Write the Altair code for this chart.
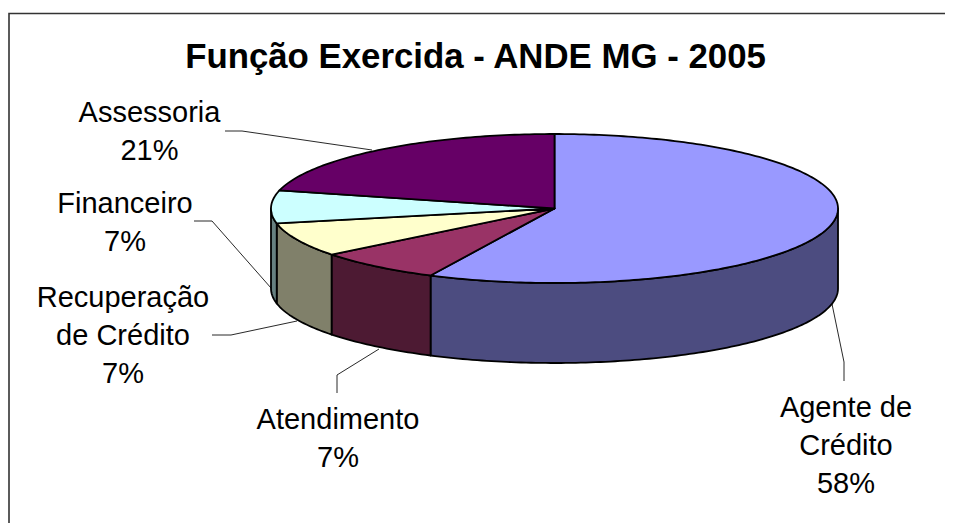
import math
import altair as alt

# Data
categories = ["Agente de Crédito", "Atendimento", "Recuperação de Crédito", "Financeiro", "Assessoria"]
shares = [57.2, 7.2, 7.4, 7.1, 21.1]          # slice sizes as drawn
label_lines = [["Agente de", "Crédito", "58%"], ["Atendimento", "7%"],
               ["Recuperação", "de Crédito", "7%"], ["Financeiro", "7%"], ["Assessoria", "21%"]]
title_text = "Função Exercida - ANDE MG - 2005"

# Styles
top_colors = ["#9999FF", "#993366", "#FFFFCC", "#CCFFFF", "#660066"]
side_colors = ["#4C4C80", "#4D1A33", "#80806A", "#668080", "#330033"]

# Layout (page pixels)
CX, CY, RX, RY, DEPTH = 554.5, 208.5, 283.5, 74.5, 80
label_anchor_x = [846, 338, 123, 125, 149.5]
label_first_baseline = [417, 429, 307, 213, 122]
LINE_H = 38
leaders = [
    [(844, 381), (844, 362), (832, 304)],
    [(337, 393), (337, 375), (379, 349)],
    [(212, 335), (231, 335), (297, 321)],
    [(194, 221), (212, 221), (271, 288)],
    [(225, 131), (242, 131), (372, 150)],
]


def pt(deg, dy=0.0):
    a = math.radians(deg)
    return [CX + RX * math.sin(a), CY - RY * math.cos(a) + dy]


def arc(a0, a1, dy=0.0):
    n = max(2, int(abs(a1 - a0)) + 1)
    return [pt(a0 + (a1 - a0) * i / (n - 1), dy) for i in range(n)]


def feature(coords, fill):
    return {"type": "Feature", "geometry": {"type": "Polygon", "coordinates": [coords]},
            "properties": {"fill": fill}}


edges = [0.0]
for s in shares:
    edges.append(edges[-1] + s * 3.6 * 100 / sum(shares))

walls, tops = [], []
for i in range(len(shares)):
    a0, a1 = edges[i], edges[i + 1]
    w0, w1 = max(a0, 90), min(a1, 270)
    if w1 > w0:
        ring = arc(w0, w1) + arc(w1, w0, DEPTH)
        walls.append(feature(ring + [ring[0]], side_colors[i]))
    ring = [[CX, CY]] + arc(a0, a1) + [[CX, CY]]
    tops.append(feature(ring, top_colors[i]))


def shapes(features):
    return alt.Chart(alt.Data(values=features)).mark_geoshape(
        stroke="black", strokeWidth=1.8, strokeJoin="round"
    ).encode(fill=alt.Fill("properties.fill:N", scale=None), tooltip=alt.value(None))


leader_features = [
    {"type": "Feature", "geometry": {"type": "LineString", "coordinates": [list(p) for p in line]},
     "properties": {"name": categories[i]}}
    for i, line in enumerate(leaders)
]
leader_layer = alt.Chart(alt.Data(values=leader_features)).mark_geoshape(
    filled=False, stroke="#111111", strokeWidth=0.9
)

rows = []
for i, lines in enumerate(label_lines):
    for j, t in enumerate(lines):
        rows.append({"t": t, "x": label_anchor_x[i], "y": label_first_baseline[i] + j * LINE_H})
label_layer = alt.Chart(alt.Data(values=rows)).mark_text(
    font="Liberation Sans", fontSize=29, align="center", baseline="alphabetic", color="black"
).encode(longitude="x:Q", latitude="y:Q", text="t:N")

title_layer = alt.Chart(alt.Data(values=[{"t": title_text, "x": 475.5, "y": 68}])).mark_text(
    font="Liberation Sans", fontSize=34.8, fontWeight="bold", align="center", baseline="alphabetic", color="black"
).encode(longitude="x:Q", latitude="y:Q", text="t:N")

frame = alt.Chart(alt.Data(values=[{
    "type": "Feature",
    "geometry": {"type": "LineString", "coordinates": [[9, 600], [9, 13.5], [1000, 13.5]]},
    "properties": {},
}])).mark_geoshape(filled=False, stroke="#333333", strokeWidth=1.6)

chart = alt.layer(
    frame, leader_layer, shapes(walls), shapes(tops), label_layer, title_layer
).project(type="identity", scale=1, translate=[-8, -8]).properties(
    width=937, height=515, padding=0, autosize=alt.AutoSizeParams(type="none"),
).configure_view(stroke=None)

chart.save("out.html", embed_options={"renderer": "svg", "actions": False})
